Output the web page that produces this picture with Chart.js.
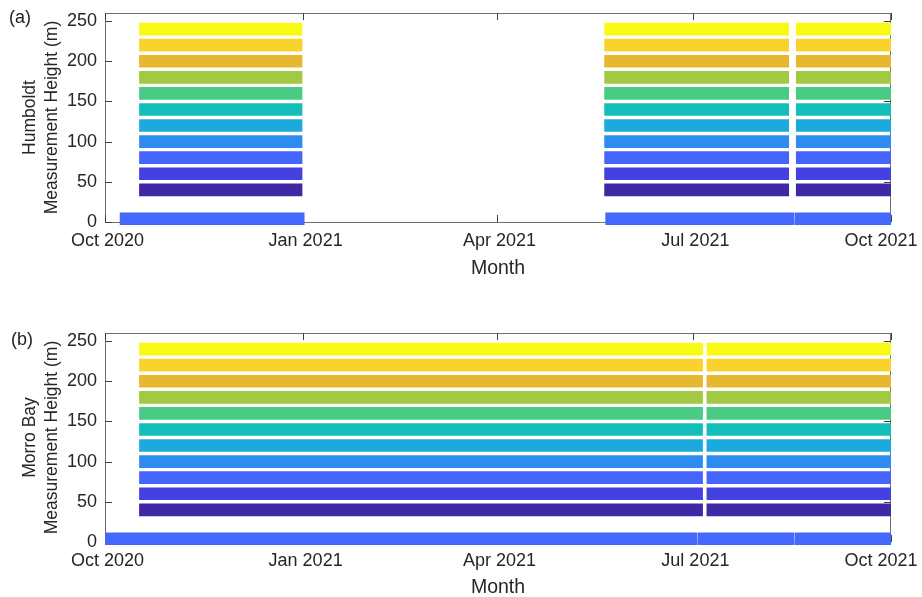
<!DOCTYPE html>
<html lang="en">
  <head>
    <meta charset="UTF-8" />
    <title>Measurement Height Availability</title>
    <script src="https://cdn.jsdelivr.net/npm/chart.js@4.4.1/dist/chart.umd.min.js"></script>
    <style>
      body {
        margin: 0;
        background: #fff;
        overflow: hidden;
        font-family: "Liberation Sans", Arial, sans-serif;
      }
      .panel {
        position: absolute;
        left: 0;
        width: 922px;
      }
      .tag {
        position: absolute;
        font-size: 18px;
        color: #222;
      }
    </style>
  </head>
  <body>
    <div class="panel" style="top: 0; height: 300px"><canvas id="chartA"></canvas></div>
    <div class="panel" style="top: 320px; height: 277px"><canvas id="chartB"></canvas></div>
    <span class="tag" style="left: 9px; top: 7px">(a)</span>
    <span class="tag" style="left: 11px; top: 329px">(b)</span>

    <script>
      // x values are days since 1 Oct 2020
      const tickDays = [0, 92, 182, 273, 365];
      const tickLabels = ["Oct 2020", "Jan 2021", "Apr 2021", "Jul 2021", "Oct 2021"];
      const yTicks = [0, 50, 100, 150, 200, 250];

      const heights = [40, 60, 80, 100, 120, 140, 160, 180, 200, 220, 240];
      const surfaceHeight = 4;

      // data periods [start, end] in days
      const humboldtPeriods = [[16, 91.5], [232, 317.5], [321, 365]];
      const humboldtSurface = [[7, 92.5], [232.5, 320], [320.5, 365]];
      const morroPeriods = [[16, 277.5], [279.5, 365]];
      const morroSurface = [[0, 275], [275.5, 320], [320.5, 365]];

      const heightColors = [
        "#3e28a6", "#4541e0", "#4564fb", "#2e8bef", "#1ca9dd", "#14beb8",
        "#49cb84", "#a3c842", "#e8b730", "#f9d22e", "#f8fa16",
      ];
      const surfaceColor = "#4468fb";

      const boxTicks = {
        id: "boxTicks",
        beforeDatasetsDraw(chart) {
          const { ctx, chartArea: a, scales } = chart;
          ctx.save();
          ctx.strokeStyle = "#707070";
          ctx.lineWidth = 1;
          ctx.strokeRect(a.left + 0.5, a.top + 0.5, a.right - a.left - 1, a.bottom - a.top);
          ctx.strokeStyle = "#404040";
          ctx.beginPath();
          tickDays.forEach((d) => {
            const x = Math.round(scales.x.getPixelForValue(d)) + 0.5;
            ctx.moveTo(x, a.bottom);
            ctx.lineTo(x, a.bottom - 7);
            ctx.moveTo(x, a.top);
            ctx.lineTo(x, a.top + 7);
          });
          yTicks.forEach((v) => {
            const y = Math.round(scales.y.getPixelForValue(v)) + 0.5;
            ctx.moveTo(a.left, y);
            ctx.lineTo(a.left + 7, y);
            ctx.moveTo(a.right, y);
            ctx.lineTo(a.right - 7, y);
          });
          ctx.stroke();
          ctx.restore();
        },
      };

      // last label sits inside the figure edge, as in the original
      const shownLabel = (i) =>
        i === tickLabels.length - 1 ? tickLabels[i] + "\u2007\u2007" : " " + tickLabels[i];

      function makeChart(id, site, periods, surface, canvasH, titleY) {
        const datasets = heights.map((h, i) => ({
          data: periods.map((p) => ({ x: p, y: h })),
          backgroundColor: heightColors[i],
          barThickness: 12,
          grouped: false,
        }));
        datasets.push({
          data: surface.map((p) => ({ x: p, y: surfaceHeight })),
          backgroundColor: surfaceColor,
          barThickness: 12,
          grouped: false,
          clip: { left: 0, right: 0, top: 0, bottom: 4 },
        });

        const titleFont = { family: "Liberation Sans", size: 19.5, lineHeight: 1.1 };
        const xHeight = canvasH - 222;

        return new Chart(document.getElementById(id), {
          type: "bar",
          data: { datasets },
          plugins: [boxTicks],
          options: {
            indexAxis: "y",
            responsive: true,
            maintainAspectRatio: false,
            animation: false,
            layout: { padding: { top: 13, right: 31, left: 0, bottom: 0 } },
            plugins: { legend: { display: false }, tooltip: { enabled: false } },
            scales: {
              x: {
                type: "linear",
                min: 0,
                max: 365,
                offset: false,
                grid: { display: false, drawTicks: false },
                border: { display: false },
                afterBuildTicks: (s) => {
                  s.ticks = tickDays.map((v) => ({ value: v }));
                },
                afterFit: (s) => {
                  s.height = xHeight;
                  s.paddingLeft = 0;
                  s.paddingRight = 0;
                },
                ticks: {
                  padding: 8,
                  color: "#262626",
                  font: { family: "Liberation Sans", size: 18 },
                  maxRotation: 0,
                  autoSkip: false,
                  callback: (v) => shownLabel(tickDays.indexOf(v)),
                },
                title: {
                  display: true,
                  text: "Month",
                  color: "#262626",
                  font: titleFont,
                  padding: { top: 0, bottom: canvasH - titleY - 12.7 },
                },
              },
              y: {
                type: "linear",
                min: 0,
                max: 260,
                offset: false,
                grid: { display: false, drawTicks: false },
                border: { display: false },
                afterBuildTicks: (s) => {
                  s.ticks = yTicks.map((v) => ({ value: v }));
                },
                afterFit: (s) => {
                  s.width = 105;
                  s.paddingTop = 0;
                  s.paddingBottom = 0;
                },
                ticks: {
                  padding: 8,
                  color: "#262626",
                  font: { family: "Liberation Sans", size: 18 },
                },
                title: {
                  display: true,
                  text: [site, "Measurement Height (m)"],
                  color: "#262626",
                  font: { family: "Liberation Sans", size: 17.5, lineHeight: 1.25 },
                  padding: { top: 19, bottom: 0 },
                },
              },
            },
          },
        });
      }

      makeChart("chartA", "Humboldt", humboldtPeriods, humboldtSurface, 300, 267);
      makeChart("chartB", "Morro Bay", morroPeriods, morroSurface, 277, 266);
    </script>
  </body>
</html>
